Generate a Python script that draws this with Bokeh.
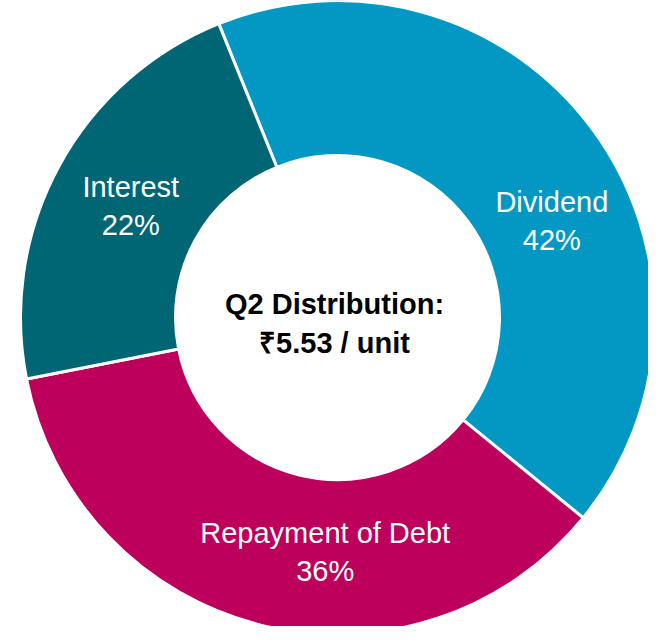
import numpy as np
from bokeh.plotting import figure
from bokeh.models import Range1d, ColumnDataSource
from bokeh.core.properties import value
from bokeh.embed import file_html
from bokeh.resources import INLINE

# ---- data ----
categories = ["Dividend", "Repayment of Debt", "Interest"]
shares = [42, 36, 22]
center_lines = ["Q2 Distribution:", "₹5.53 / unit"]

# ---- layout / style ----
colors = ["#0398c4", "#bc005b", "#006674"]
W, H = 648, 626
cx, cy = 345, 642 - 325          # donut centre in data units (1 unit = 1 px)
r_in, r_out = 162, 317
start_cw_from_top = -22.0        # first slice boundary, degrees clockwise from 12 o'clock
label_r = 235
label_shift = [12.2, -11.0, 0.0]  # degrees, label nudges like the original

vals = np.array(shares, dtype=float)
frac = vals / vals.sum()
cum = np.concatenate([[0], np.cumsum(frac)])
start_cw = start_cw_from_top + cum[:-1] * 360
end_cw = start_cw_from_top + cum[1:] * 360
start_math = np.deg2rad(90 - start_cw)
end_math = np.deg2rad(90 - end_cw)

mid_cw = (start_cw + end_cw) / 2 + np.array(label_shift)
lx = cx + label_r * np.sin(np.deg2rad(mid_cw))
ly = cy + label_r * np.cos(np.deg2rad(mid_cw))
labels = [f"{c}\n{int(round(v))}%" for c, v in zip(categories, shares)]

src = ColumnDataSource(dict(start=start_math, end=end_math, color=colors,
                            lx=lx, ly=ly, label=labels))

p = figure(width=W, height=H, output_backend="svg", toolbar_location=None,
           x_range=Range1d(8, 8 + W), y_range=Range1d(642 - 8 - H, 642 - 8),
           min_border=0, background_fill_color="white", border_fill_color="white")
p.axis.visible = False
p.grid.visible = False
p.outline_line_color = None

p.annular_wedge(x=cx, y=cy, inner_radius=r_in, outer_radius=r_out,
                start_angle="start", end_angle="end", direction="clock",
                fill_color="color", line_color="white", line_width=3, source=src)

p.text(x="lx", y="ly", text="label", source=src, text_align="center",
       text_baseline="middle", text_color="white",
       text_font=value("Liberation Sans"), text_font_size="29px",
       text_line_height=1.2)

p.text(x=[342], y=[642 - 331], text=["\n".join(center_lines)], text_align="center",
       text_baseline="middle", text_color="black", text_font_style="bold",
       text_font=value("Liberation Sans"), text_font_size="29px",
       text_line_height=1.2)

open("out.html", "w").write(file_html(p, INLINE))
